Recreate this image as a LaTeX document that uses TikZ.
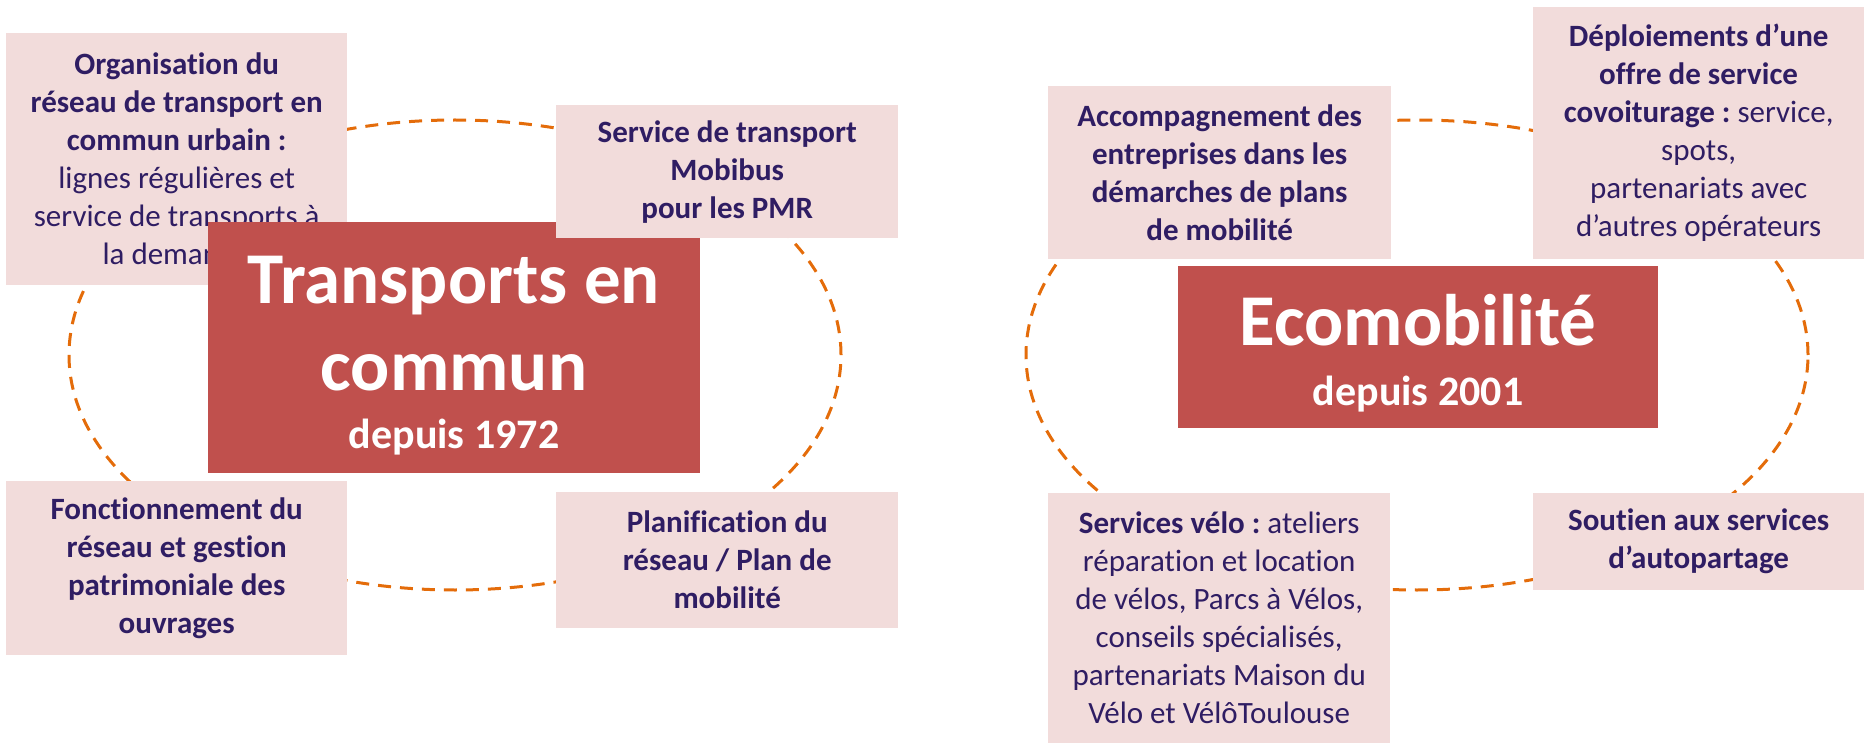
\documentclass[tikz,border=0pt]{standalone}
\usepackage{fontspec}
\setmainfont{Carlito}[Ligatures=NoCommon]
\frenchspacing
\definecolor{boxpink}{HTML}{F2DCDB}
\definecolor{redfill}{HTML}{C0504D}
\definecolor{txt}{HTML}{2F1D63}
\definecolor{dashorange}{HTML}{E46C0A}
\begin{document}
\begin{tikzpicture}[x=1pt,y=-1pt,
 pbox/.style={fill=boxpink, text=txt, inner sep=0pt, align=center, anchor=north west, font=\fontsize{31}{38}\selectfont},
 rbox/.style={fill=redfill, inner sep=0pt, anchor=north west},
 bigt/.style={text=white, font=\bfseries\fontsize{73}{86}\selectfont, anchor=base, inner sep=0pt},
 subt/.style={text=white, font=\bfseries\fontsize{42}{50}\selectfont, anchor=base, inner sep=0pt},
 orbit/.style={draw=dashorange, line width=3pt, dash pattern=on 13pt off 9pt}]
\useasboundingbox (0,0) rectangle (1864,743);
% orbits
\draw[orbit] (455,355) ellipse [x radius=386pt, y radius=235pt];
\draw[orbit] (1417,355) ellipse [x radius=391pt, y radius=235pt];
% left group
\node[pbox, minimum width=341pt, minimum height=252pt] (org) at (6,33)
 {\textbf{Organisation du}\\\textbf{réseau de transport en}\\\textbf{commun urbain :}\\lignes régulières et\\service de transports à\\la demande};
\node[rbox, minimum width=492pt, minimum height=251pt] (tcbox) at (208,222) {};
\node[bigt] (tc1) at (454,304) {Transports en};
\node[bigt] (tc2) at (454,390) {commun};
\node[subt] (tc3) at (454,448) {depuis 1972};
\node[pbox, minimum width=342pt, minimum height=133pt] (mob) at (556,105)
 {\textbf{Service de transport}\\\textbf{Mobibus}\\\textbf{pour les PMR}};
\node[pbox, minimum width=341pt, minimum height=174pt] (fonc) at (6,481)
 {\textbf{Fonctionnement du}\\\textbf{réseau et gestion}\\\textbf{patrimoniale des}\\\textbf{ouvrages}};
\node[pbox, minimum width=342pt, minimum height=136pt] (plan) at (556,492)
 {\textbf{Planification du}\\\textbf{réseau / Plan de}\\\textbf{mobilité}};
% right group
\node[rbox, minimum width=480pt, minimum height=162pt] (ecobox) at (1178,266) {};
\node[bigt] (eco1) at (1418,345) {Ecomobilité};
\node[subt] (eco2) at (1418,405) {depuis 2001};
\node[pbox, minimum width=343pt, minimum height=173pt] (acc) at (1048,86)
 {\textbf{Accompagnement des}\\\textbf{entreprises dans les}\\\textbf{démarches de plans}\\\textbf{de mobilité}};
\node[pbox, minimum width=331pt, minimum height=252pt] (dep) at (1533,7)
 {\textbf{Déploiements d’une}\\\textbf{offre de service}\\\textbf{covoiturage :} service,\\spots,\\partenariats avec\\d’autres opérateurs};
\node[pbox, minimum width=342pt, minimum height=250pt] (velo) at (1048,493)
 {\textbf{Services vélo :} ateliers\\réparation et location\\de vélos, Parcs à Vélos,\\conseils spécialisés,\\partenariats Maison du\\Vélo et VélôToulouse};
\node[pbox, minimum width=331pt, minimum height=97pt] (auto) at (1533,493)
 {\textbf{Soutien aux services}\\\textbf{d’autopartage}};
\end{tikzpicture}
\end{document}
